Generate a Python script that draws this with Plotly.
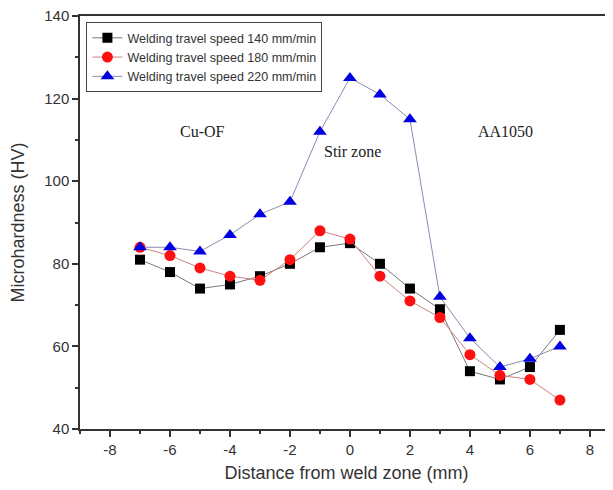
import plotly.graph_objects as go

distance = [-7, -6, -5, -4, -3, -2, -1, 0, 1, 2, 3, 4, 5, 6, 7]
hv_140 = [81, 78, 74, 75, 77, 80, 84, 85, 80, 74, 69, 54, 52, 55, 64]
hv_180 = [84, 82, 79, 77, 76, 81, 88, 86, 77, 71, 67, 58, 53, 52, 47]
hv_220 = [84, 84, 83, 87, 92, 95, 112, 125, 121, 115, 72, 62, 55, 57, 60]
names = ["Welding travel speed 140 mm/min",
         "Welding travel speed 180 mm/min",
         "Welding travel speed 220 mm/min"]
x_ticks = [-8, -6, -4, -2, 0, 2, 4, 6, 8]
x_tick_labels = ["-8", "-6", "-4", "-2", "0", "2", "4", "6", "8"]
zone_labels = ["Cu-OF", "Stir zone", "AA1050"]
zone_x = [-4.93, 0.07, 5.2]
zone_y = [112, 107.3, 112]

fig = go.Figure()
fig.add_trace(go.Scatter(x=distance, y=hv_140, name=names[0], mode="lines+markers",
                         line=dict(color="#777777", width=1),
                         marker=dict(symbol="square", size=10, color="black")))
fig.add_trace(go.Scatter(x=distance, y=hv_180, name=names[1], mode="lines+markers",
                         line=dict(color="#d08080", width=1),
                         marker=dict(symbol="circle", size=11, color="#ff1010")))
fig.add_trace(go.Scatter(x=distance, y=hv_220, name=names[2], mode="lines+markers",
                         line=dict(color="#8c8cb0", width=1),
                         marker=dict(symbol="triangle-up", size=12, color="#0000e0")))

for t, x, y in zip(zone_labels, zone_x, zone_y):
    fig.add_annotation(x=x, y=y, text=t, showarrow=False,
                       font=dict(family="Liberation Serif", size=16, color="#222"))

# page body has an 8px margin, so the figure is 8px smaller on each side
fig.update_layout(
    width=605, height=482,
    margin=dict(l=72, r=0, t=8, b=61),
    paper_bgcolor="white", plot_bgcolor="white",
    font=dict(family="Liberation Sans", color="#333"),
    legend=dict(x=0.012, y=0.985, xanchor="left", yanchor="top",
                bgcolor="white", bordercolor="#444", borderwidth=1,
                font=dict(size=12.5, color="#333"),
                tracegroupgap=0, itemwidth=30),
    showlegend=True,
)
fig.update_xaxes(range=[-9, 8.77], tickvals=x_ticks, ticktext=x_tick_labels,
                 ticks="outside", ticklen=6, tickwidth=1.5, tickcolor="#333",
                 minor=dict(dtick=1, tick0=-9, ticks="outside", ticklen=3, tickcolor="#333"),
                 showline=True, linecolor="#333", linewidth=1.5, mirror=True,
                 showgrid=False, zeroline=False, automargin=False,
                 ticklabeloverflow="allow",
                 tickfont=dict(size=15, color="#333"),
                 title=dict(text="Distance from weld zone (mm)", font=dict(size=18, color="#333"), standoff=10))
fig.update_yaxes(range=[40, 140], dtick=20, tick0=40,
                 ticks="outside", ticklen=6, tickwidth=1.5, tickcolor="#333",
                 minor=dict(dtick=10, ticks="outside", ticklen=3, tickcolor="#333"),
                 showline=True, linecolor="#333", linewidth=1.5, mirror=False,
                 showgrid=False, zeroline=False, automargin=False,
                 ticklabeloverflow="allow",
                 tickfont=dict(size=15, color="#333"),
                 title=dict(text="Microhardness (HV)", font=dict(size=18, color="#333"), standoff=22))

fig.write_html("out.html")
